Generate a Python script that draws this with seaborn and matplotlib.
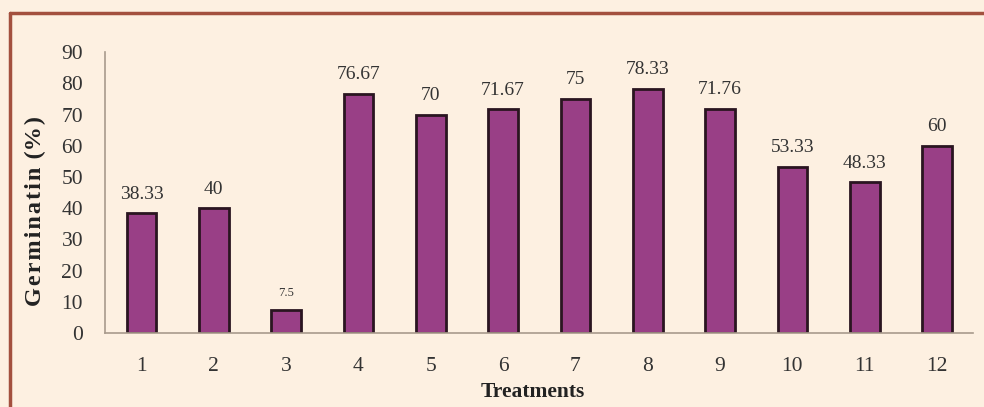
import matplotlib
matplotlib.use("Agg")
import matplotlib.pyplot as plt
from matplotlib.lines import Line2D
import pandas as pd
import seaborn as sns

# data
treatments = ["1", "2", "3", "4", "5", "6", "7", "8", "9", "10", "11", "12"]
germination = [38.33, 40, 7.5, 76.67, 70, 71.67, 75, 78.33, 71.76, 53.33, 48.33, 60]
value_labels = ["38.33", "40", "7.5", "76.67", "70", "71.67", "75", "78.33", "71.76", "53.33", "48.33", "60"]

df = pd.DataFrame({"Treatments": treatments, "Germination": germination})

sns.set_theme(style="white")
plt.rcParams["font.family"] = ["Liberation Serif", "DejaVu Serif"]

bg = "#fdf0e1"
axis_col = "#a89a8c"

fig = plt.figure(figsize=(9.84, 4.07), dpi=100, facecolor=bg)
ax = fig.add_axes([0.107, 0.182, 0.882, 0.690])
ax.set_facecolor(bg)

sns.barplot(data=df, x="Treatments", y="Germination", ax=ax,
            color="#993f86", saturation=1, width=0.41,
            edgecolor="#2a1520", linewidth=2)

# value labels above bars
for i, (v, lab) in enumerate(zip(germination, value_labels)):
    fs = 9 if lab == "7.5" else 14
    ax.text(i, v + 3.4, lab, ha="center", va="bottom", fontsize=fs, color="#333333")

ax.set_ylim(0, 90)
ax.set_xlim(-0.5, 11.5)
ax.set_yticks(range(0, 91, 10))

# x ticks at category boundaries, labels at centres
ax.set_xticks([i + 0.5 for i in range(-1, 12)], minor=False)
ax.set_xticklabels([])
ax.set_xticks(range(12), minor=True)
ax.set_xticklabels(treatments, minor=True)
ax.tick_params(axis="x", which="minor", length=0, pad=17, labelsize=15.5, labelcolor="#333333")
ax.tick_params(axis="x", which="major", length=5, width=1, color=axis_col, direction="out")
ax.tick_params(axis="y", length=5, width=1, color=axis_col, direction="out",
               labelsize=15.5, labelcolor="#333333", pad=11)

for s in ["top", "right"]:
    ax.spines[s].set_visible(False)
for s in ["left", "bottom"]:
    ax.spines[s].set_color(axis_col)
    ax.spines[s].set_linewidth(1.2)

ax.set_xlabel("Treatments", fontsize=15.5, fontweight="bold", color="#222222")
ax.xaxis.set_label_coords(0.493, -0.175)
hs = "\u200a"
ax.set_ylabel(hs.join("Germinatin") + hs + " (%" + hs + ")", fontsize=17.5, fontweight="bold",
              color="#222222", va="center")
ax.yaxis.set_label_coords(-0.081, 0.434)

# frame lines of the picture
fig.add_artist(Line2D([0.010, 1.0], [0.968, 0.968], transform=fig.transFigure,
                      color="#a3503e", linewidth=2.5))
fig.add_artist(Line2D([0.010, 0.010], [0.0, 0.968], transform=fig.transFigure,
                      color="#a3503e", linewidth=2.5))

fig.savefig("out.png", dpi=100, facecolor=bg)
